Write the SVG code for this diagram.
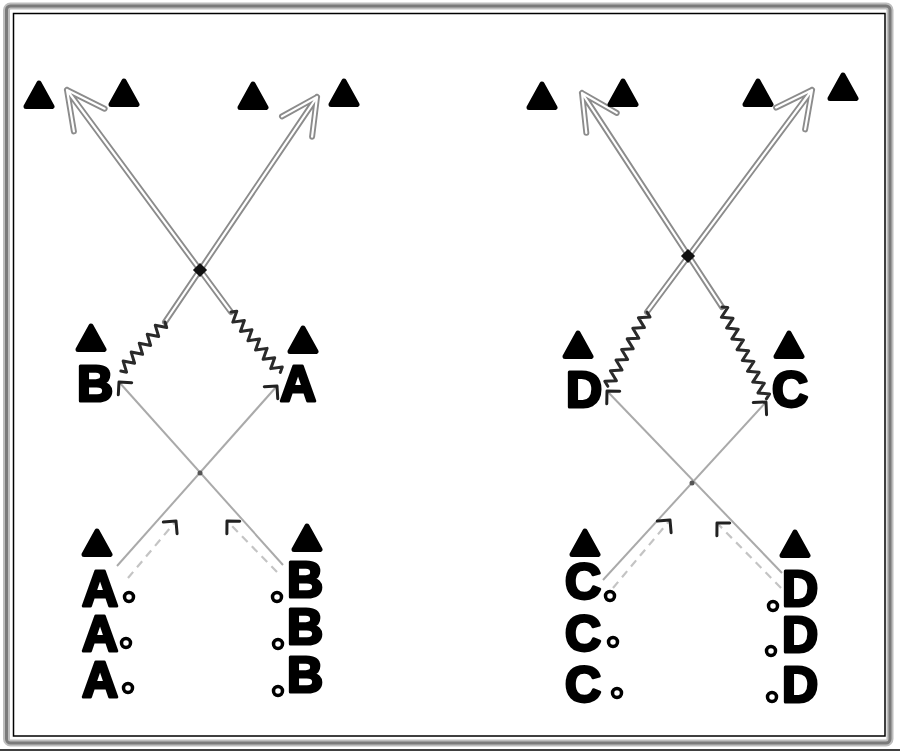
<svg xmlns="http://www.w3.org/2000/svg" width="900" height="752" viewBox="0 0 900 752">
<style>
.lbl{font-family:"Liberation Sans",Arial,sans-serif;font-weight:bold;font-size:50px;fill:#000;stroke:#000;stroke-width:3;stroke-linejoin:round;text-anchor:middle}
.dblo{fill:none;stroke:#8c8c8c;stroke-width:6;stroke-linecap:round;stroke-linejoin:round}
.dbli{fill:none;stroke:#fff;stroke-width:2.2;stroke-linecap:round;stroke-linejoin:round}
.zig{fill:none;stroke:#2a2a2a;stroke-width:3;stroke-linejoin:round;stroke-linecap:round}
.pass{fill:none;stroke:#aaa;stroke-width:2;marker-end:url(#hook)}
.run{fill:none;stroke:#c4c4c4;stroke-width:2.2;stroke-dasharray:8 6;marker-end:url(#hook)}
.ball{fill:#fff;stroke:#000;stroke-width:3.5}
</style>
<defs>
<path id="tri" d="M0,-12 L13,11.5 L-13,11.5 Z" stroke="#000" stroke-width="5" stroke-linejoin="round"/>
<marker id="hook" markerUnits="userSpaceOnUse" markerWidth="30" markerHeight="30" viewBox="-15 -15 30 30" refX="0" refY="0" orient="auto" overflow="visible">
<path d="M-9,-9 L0,0 L-9,9" fill="none" stroke="#222" stroke-width="3" stroke-linecap="round" stroke-linejoin="round"/>
</marker>
<path id="s1" d="M231,312 L67,90 M104.6,108.7 L67,90 L73.9,131.4"/>
<path id="s2" d="M165,322 L317,97 M282,116.4 L317,97 L312.1,136.7"/>
<path id="s3" d="M722,307 L582,93 M616.7,112.9 L582,93 L586.3,132.8"/>
<path id="s4" d="M647,312 L812,90 M776.1,107.6 L812,90 L805.1,129.4"/>
</defs>
<rect width="900" height="752" fill="#fff"/>
<g id="frame">
<rect x="6.5" y="6" width="883.5" height="737" rx="4" fill="none" stroke="#bdbdbd" stroke-width="7"/>
<rect x="6.5" y="6" width="883.5" height="737" rx="4" fill="none" stroke="#7a7a7a" stroke-width="3"/>
<rect x="13.5" y="13.5" width="871.5" height="722.5" fill="none" stroke="#000" stroke-width="1.5"/>
<line x1="0" y1="750" x2="900" y2="750" stroke="#000" stroke-width="1.5"/>
</g>
<g id="connectors">
<use href="#s1" class="dblo"/><use href="#s1" class="dbli"/>
<use href="#s2" class="dblo"/><use href="#s2" class="dbli"/>
<use href="#s3" class="dblo"/><use href="#s3" class="dbli"/>
<use href="#s4" class="dblo"/><use href="#s4" class="dbli"/>
<rect x="195" y="265" width="10" height="10" fill="#111" transform="rotate(45 200 270)"/>
<rect x="683" y="251" width="10" height="10" fill="#111" transform="rotate(45 688 256)"/>
<path class="zig" transform="translate(165,322) rotate(132)" d="M0,0 l3,-5 l6,10 l6,-10 l6,10 l6,-10 l6,10 l6,-10 l6,10 l6,-10 l6,10 l6,-10 l3,5"/>
<path class="zig" transform="translate(231,312) rotate(50.8)" d="M0,0 l3,-5 l6,10 l6,-10 l6,10 l6,-10 l6,10 l6,-10 l6,10 l6,-10 l6,10 l6,-10 l6,10 l6,-10 l3,5"/>
<path class="zig" transform="translate(647,312) rotate(117.8)" d="M0,0 l3,-5 l6,10 l6,-10 l6,10 l6,-10 l6,10 l6,-10 l6,10 l6,-10 l6,10 l6,-10 l6,10 l6,-10 l6,10 l3,-5"/>
<path class="zig" transform="translate(722,307) rotate(64.2)" d="M0,0 l3,-5 l6,10 l6,-10 l6,10 l6,-10 l6,10 l6,-10 l6,10 l6,-10 l6,10 l6,-10 l6,10 l6,-10 l6,10 l6,-10 l6,10 l6,-10 l3,5"/>
<path class="pass" d="M117,566 L277,386"/>
<path class="pass" d="M283,565 L119,382"/>
<path class="pass" d="M603,580 L766,402"/>
<path class="pass" d="M782,573 L607,391"/>
<circle cx="200" cy="473" r="2.5" fill="#555"/>
<circle cx="692" cy="483" r="2.5" fill="#555"/>
<path class="run" d="M128,578 L176,521"/>
<path class="run" d="M277,572 L227,521"/>
<path class="run" d="M613,588 L670,520"/>
<path class="run" d="M781,588 L717,523"/>
</g>
<g id="cones-top">
<use href="#tri" x="39" y="95"/><use href="#tri" x="124" y="93"/>
<use href="#tri" x="253" y="96"/><use href="#tri" x="344" y="93"/>
<use href="#tri" x="542" y="96"/><use href="#tri" x="623" y="93"/>
<use href="#tri" x="758" y="93"/><use href="#tri" x="843" y="87"/>
</g>
<g id="node-B-top"><use href="#tri" x="91" y="338"/><text class="lbl" x="95" y="401">B</text></g>
<g id="node-A-top"><use href="#tri" x="303" y="340"/><text class="lbl" x="298" y="401">A</text></g>
<g id="node-D-top"><use href="#tri" x="578" y="345"/><text class="lbl" x="584" y="407">D</text></g>
<g id="node-C-top"><use href="#tri" x="789" y="345"/><text class="lbl" x="790" y="407">C</text></g>
<g id="node-A-group">
<use href="#tri" x="97" y="543"/>
<text class="lbl" x="100" y="606">A</text><text class="lbl" x="100" y="651">A</text><text class="lbl" x="100" y="697">A</text>
<circle class="ball" cx="129" cy="597" r="4.5"/><circle class="ball" cx="126" cy="643" r="4.5"/><circle class="ball" cx="128" cy="688" r="4.5"/>
</g>
<g id="node-B-group">
<use href="#tri" x="307" y="538"/>
<text class="lbl" x="305" y="597">B</text><text class="lbl" x="305" y="644">B</text><text class="lbl" x="305" y="692">B</text>
<circle class="ball" cx="277" cy="597" r="4.5"/><circle class="ball" cx="278" cy="644" r="4.5"/><circle class="ball" cx="278" cy="691" r="4.5"/>
</g>
<g id="node-C-group">
<use href="#tri" x="585" y="543"/>
<text class="lbl" x="583" y="599">C</text><text class="lbl" x="583" y="651">C</text><text class="lbl" x="583" y="702">C</text>
<circle class="ball" cx="610" cy="596" r="4.5"/><circle class="ball" cx="613" cy="642" r="4.5"/><circle class="ball" cx="617" cy="693" r="4.5"/>
</g>
<g id="node-D-group">
<use href="#tri" x="795" y="544"/>
<text class="lbl" x="800" y="606">D</text><text class="lbl" x="800" y="652">D</text><text class="lbl" x="800" y="702">D</text>
<circle class="ball" cx="773" cy="606" r="4.5"/><circle class="ball" cx="771" cy="651" r="4.5"/><circle class="ball" cx="772" cy="697" r="4.5"/>
</g>
</svg>
